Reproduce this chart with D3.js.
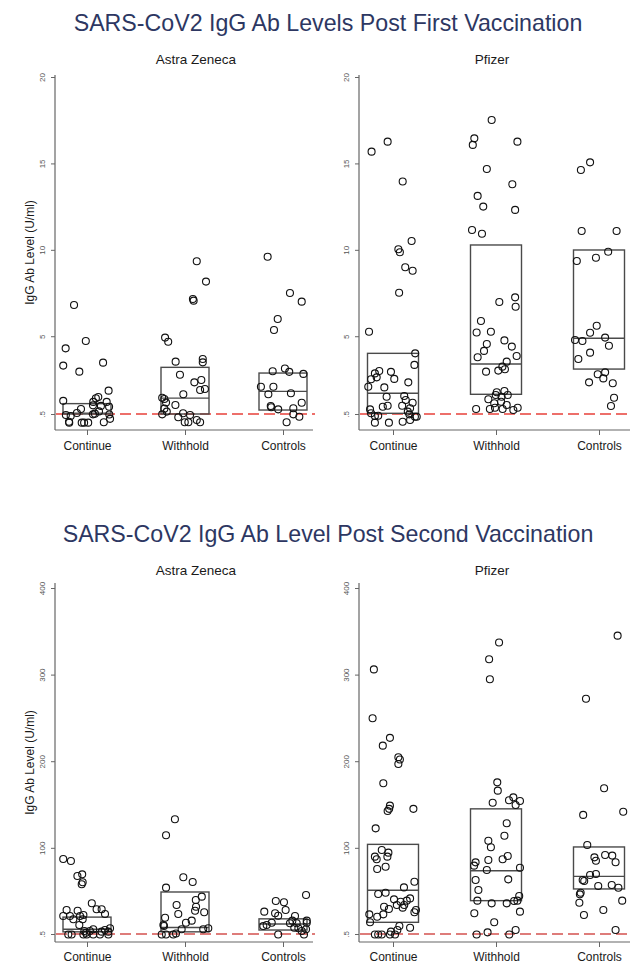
<!DOCTYPE html>
<html>
<head>
<meta charset="utf-8">
<script src="https://cdn.jsdelivr.net/npm/d3@7/dist/d3.min.js"></script>
<style>
  html, body { margin: 0; padding: 0; background: #fff; }
  svg { display: block; font-family: "Liberation Sans", Arial, Helvetica, sans-serif; }
</style>
</head>
<body>
<svg id="chart" width="630" height="963"></svg>
<script>
// ---------------- DATA ----------------
const categories = ["Continue", "Withhold", "Controls"];
const vaccines = ["Astra Zeneca", "Pfizer"];
const titles = ["SARS-CoV2 IgG Ab Levels Post First Vaccination",
                "SARS-CoV2 IgG Ab Level Post Second Vaccination"];
const yAxisTitle = "IgG Ab Level (U/ml)";
const firstTicks = [0.5, 5, 10, 15, 20];
const firstTickLabels = [".5", "5", "10", "15", "20"];
const secondTicks = [0.5, 100, 200, 300, 400];
const secondTickLabels = [".5", "100", "200", "300", "400"];
const detectionLimit = 0.5;

// points: [jitter (fraction of box half width), value]
const az1Continue = [[-0.54,6.81],[-0.89,4.30],[-0.05,4.72],[-0.99,3.30],[-0.32,2.95],[0.67,3.47],[0.9,1.85],[-0.99,1.26],[0.47,1.48],[0.37,1.41],[0.26,1.20],[0.82,1.20],[0.58,0.97],[0.92,0.92],[-0.25,0.79],[-0.42,0.56],[-0.68,0.38],[-0.88,0.44],[0.33,0.52],[0.25,0.48],[0.93,0.47],[0.96,0.22],[-0.75,0.05],[-0.74,0.0],[-0.22,0.0],[-0.12,0.0],[0.05,0.0],[0.70,0.02],[0.25,1.0],[0.5,0.65]];
const az1Withhold = [[0.49,9.34],[0.875,8.16],[0.33,7.15],[0.36,7.06],[-0.83,4.92],[-0.70,4.68],[-0.39,3.53],[0.74,3.68],[0.74,3.49],[-0.21,2.77],[0.39,2.33],[0.68,2.47],[0.63,1.89],[0.83,1.95],[-0.07,1.64],[-0.95,1.44],[-0.86,1.37],[-0.79,1.16],[-0.40,1.02],[-0.86,0.81],[-0.76,0.64],[-0.95,0.48],[-0.08,0.54],[-0.28,0.31],[0.21,0.44],[-0.01,0.02],[0.14,0.02],[0.49,0.15],[0.63,0.02]];
const az1Controls = [[-0.64,9.60],[0.29,7.50],[0.78,7.0],[-0.22,6.0],[-0.375,5.36],[-0.43,2.97],[0.08,3.13],[0.26,2.94],[0.85,2.82],[-0.92,2.08],[-0.40,2.08],[-0.61,1.64],[0.33,1.70],[-0.51,0.96],[-0.49,0.89],[-0.20,0.77],[0.78,1.15],[0.43,0.83],[0.43,0.48],[0.68,0.34],[0.15,0.02]];

const pf1Continue = [[-0.84,15.68],[-0.21,16.26],[0.38,13.95],[0.73,10.51],[0.21,10.03],[0.27,9.86],[0.48,8.99],[0.77,8.79],[0.24,7.52],[-0.94,5.26],[0.87,4.01],[0.84,3.34],[-0.54,2.99],[-0.71,2.85],[-0.86,2.51],[-0.08,2.94],[-0.64,2.62],[0.05,2.53],[-0.97,2.08],[-0.34,2.04],[0.60,2.33],[-0.25,1.50],[0.44,1.54],[0.50,1.31],[0.77,1.15],[-0.21,0.98],[-0.40,0.92],[0.36,0.98],[0.67,0.83],[-0.90,0.77],[-0.86,0.54],[-0.71,0.38],[-0.58,0.40],[0.58,0.64],[0.64,0.48],[0.86,0.34],[-0.71,0.0],[-0.16,0.0],[0.38,0.05],[0.67,0.15],[0.93,0.34]];
const pf1Withhold = [[-0.17,17.51],[-0.85,16.45],[-0.91,16.07],[0.84,16.26],[-0.36,14.68],[0.64,13.79],[-0.72,13.12],[-0.50,12.5],[0.75,12.31],[-0.94,11.15],[-0.55,10.93],[0.75,7.25],[0.13,6.98],[0.77,6.71],[-0.59,5.88],[-0.20,5.26],[-0.76,5.22],[0.33,4.76],[-0.36,4.55],[0.62,4.40],[-0.47,4.15],[0.81,3.86],[-0.72,3.78],[0.42,3.53],[0.25,3.24],[0.35,3.09],[-0.39,2.95],[0.09,3.01],[0.03,1.76],[0.33,1.83],[0.46,1.60],[-0.01,1.60],[-0.30,1.35],[0.22,1.50],[0.20,1.21],[-0.07,1.12],[0.42,1.02],[-0.78,0.79],[-0.24,0.79],[-0.04,0.86],[0.26,0.79],[0.68,0.73],[0.85,0.86]];
const pf1Controls = [[-0.71,14.62],[-0.35,15.06],[-0.68,11.09],[0.69,11.09],[0.36,9.89],[-0.12,9.54],[-0.87,9.35],[-0.09,5.61],[-0.35,5.20],[0.24,4.92],[-0.94,4.78],[-0.65,4.72],[0.39,4.45],[-0.35,4.05],[-0.81,3.68],[-0.05,2.80],[0.24,2.91],[0.17,2.56],[-0.39,2.33],[0.54,2.28],[0.59,1.44],[0.47,0.96]];

const az2Continue = [[-0.99,87.1],[-0.67,84.8],[-0.40,67.5],[-0.20,69.4],[-0.22,57.9],[-0.18,60.2],[0.20,36],[0.40,29],[0.61,29],[0.75,23.6],[-0.85,28.2],[-0.39,27.4],[-0.99,21.3],[-0.71,21.3],[-0.57,17.5],[-0.29,21.3],[-0.15,22.4],[-0.18,17.5],[-0.32,10.9],[0.75,5.1],[0.96,7.1],[0.26,6.0],[-0.11,4],[0.12,4],[0.89,3.2],[0.61,3.2],[-0.04,2],[-0.78,0],[-0.64,0],[-0.15,0],[-0.01,0],[0.26,0],[0.54,0],[0.89,0]];
const az2Withhold = [[-0.42,133],[-0.79,114.5],[-0.07,66],[0.32,60.5],[-0.79,54],[0.70,43.6],[0.45,39.8],[-0.35,34],[0.46,32],[0.42,27.4],[0.80,25.6],[-0.28,23.6],[-0.83,19.3],[0.04,13.5],[0.28,15.9],[-0.90,10.9],[-0.875,9.7],[-0.14,6],[0.76,6],[0.97,7.1],[-0.97,0],[-0.79,0],[-0.49,0],[-0.375,1]];
const az2Controls = [[0.96,45.5],[-0.30,38.6],[0.04,37.1],[-0.78,26.3],[-0.33,24.4],[-0.20,21.6],[0.11,28.2],[0.5,21.3],[0.39,15.9],[-0.47,13.5],[-0.82,9.7],[-0.68,10.9],[0.29,12.9],[0.57,12.9],[0.99,15.9],[0.99,13.5],[0.47,7.8],[0.64,7.1],[0.78,4],[0.96,6],[-0.20,0],[0.875,0]];

const pf2Continue = [[-0.75,306],[-0.80,249.6],[-0.40,218],[-0.12,227],[0.21,204.5],[0.27,202],[0.21,196.8],[-0.38,174.5],[-0.12,148.7],[-0.15,145],[-0.21,142.5],[0.80,145],[-0.68,122.5],[-0.44,97.5],[-0.18,94.4],[-0.71,89.8],[-0.64,86.8],[-0.22,89.8],[-0.62,75.5],[-0.29,78.2],[0.43,54.3],[0.84,60.8],[-0.58,46.7],[-0.29,48.2],[0.04,40.5],[0.30,37.8],[0.44,34],[0.15,34],[0.54,39],[0.67,41.6],[0.38,30.9],[-0.35,32],[-0.16,29.4],[0.90,28.2],[0.84,25.6],[-0.62,20.5],[-0.38,23.2],[-0.93,23.2],[-0.90,14],[0.25,9.7],[0.67,7.8],[-0.08,3.2],[0.17,5.1],[-0.71,0],[-0.58,0],[-0.44,0],[-0.12,0],[0.08,0]];
const pf2Withhold = [[0.12,337],[-0.27,317.7],[-0.24,294.6],[0.05,175.6],[0.07,166],[0.51,155],[0.68,158.3],[0.77,149.5],[0.94,154],[-0.13,152],[0.42,128.3],[0.33,114],[-0.30,108.2],[-0.20,100.6],[0.46,90.6],[0.26,86.8],[-0.30,86],[-0.80,83.2],[-0.86,79.4],[-0.36,74.4],[0.94,77],[-0.80,62.8],[0.48,63.6],[-0.69,51.3],[-0.73,39],[-0.17,35.9],[0.42,35.9],[0.71,38.6],[0.84,39],[0.91,44.4],[0.94,26.3],[-0.85,24.4],[-0.07,14],[0.77,5.1],[-0.33,2.4],[-0.76,0],[0.52,0]];
const pf2Controls = [[0.73,345],[-0.51,272.2],[0.20,168.7],[-0.62,138],[0.95,141.7],[-0.46,103.3],[-0.18,89],[-0.12,85],[0.24,91.7],[0.52,91],[0.65,83.3],[-0.35,68.6],[-0.12,69.8],[-0.64,62.8],[-0.58,61.7],[-0.03,55.9],[0.50,57],[0.76,53.9],[-0.72,48.2],[-0.75,46.3],[-0.77,36.6],[0.91,39],[0.17,28.2],[-0.59,22.4],[0.65,5.1]];

// box statistics per category (Continue, Withhold, Controls)
const az1Q1 = [0.5, 0.5, 0.73],  az1Median = [0.55, 1.42, 1.81], az1Q3 = [1.10, 3.20, 2.87];
const pf1Q1 = [0.54, 1.64, 3.10], pf1Median = [1.70, 3.39, 4.88], pf1Q3 = [4.01, 10.28, 9.99];
const az2Q1 = [3, 3, 5.1],        az2Median = [6, 8, 12.1],       az2Q3 = [20, 49, 18];
const pf2Q1 = [14, 39, 52.5],     pf2Median = [51, 73.6, 67],     pf2Q3 = [104, 145, 101];

// ---------------- LAYOUT ----------------
const svg = d3.select("#chart");
const FONT = '"Liberation Sans", Arial, Helvetica, sans-serif';

const rows = [
  { title: titles[0], titleY: 31, subY: 64, axisTop: 75, axisBottom: 430,
    domain: [0.5, 20], range: [414, 77], ticks: firstTicks, tickLabels: firstTickLabels,
    redColor: "#e8403a",
    groups: [[az1Continue, az1Withhold, az1Controls], [pf1Continue, pf1Withhold, pf1Controls]],
    boxes: [[az1Q1, az1Median, az1Q3], [pf1Q1, pf1Median, pf1Q3]] },
  { title: titles[1], titleY: 542, subY: 575, axisTop: 583, axisBottom: 942,
    domain: [0.5, 400], range: [934, 588], ticks: secondTicks, tickLabels: secondTickLabels,
    redColor: "#d4514f",
    groups: [[az2Continue, az2Withhold, az2Controls], [pf2Continue, pf2Withhold, pf2Controls]],
    boxes: [[az2Q1, az2Median, az2Q3], [pf2Q1, pf2Median, pf2Q3]] }
];
const cols = [
  { x0: 55, x1: 313, catRange: [87, 283], halfW: 24, subX: 196 },
  { x0: 359, x1: 631, catRange: [393, 599], halfW: 25.5, subX: 492 }
];

rows.forEach((row, ri) => {
  svg.append("text")
    .attr("x", 328).attr("y", row.titleY)
    .attr("text-anchor", "middle")
    .attr("font-family", FONT).attr("font-size", 23.2)
    .attr("fill", "#2d3762")
    .text(row.title);

  const y = d3.scaleLinear().domain(row.domain).range(row.range);

  cols.forEach((col, ci) => {
    const g = svg.append("g");
    const x = d3.scalePoint().domain(categories).range(col.catRange);

    // subtitle
    g.append("text")
      .attr("x", col.subX).attr("y", row.subY)
      .attr("text-anchor", "middle")
      .attr("font-family", FONT).attr("font-size", 13.5)
      .attr("fill", "#1a1a1a")
      .text(vaccines[ci]);

    // y axis
    const yAxis = d3.axisLeft(y).tickValues(row.ticks)
      .tickFormat((d, i) => row.tickLabels[i]).tickSize(4).tickSizeOuter(0);
    const ya = g.append("g").attr("transform", `translate(${col.x0},0)`).call(yAxis);
    ya.select(".domain").remove();
    ya.selectAll(".tick line").attr("stroke", "#666").attr("stroke-width", 1);
    ya.selectAll(".tick text")
      .attr("x", null).attr("dy", null)
      .attr("transform", "translate(-10,0) rotate(-90)")
      .attr("text-anchor", "middle")
      .attr("font-family", FONT).attr("font-size", 8)
      .attr("fill", "#555");
    g.append("line")
      .attr("x1", col.x0).attr("x2", col.x0)
      .attr("y1", row.axisTop).attr("y2", row.axisBottom)
      .attr("stroke", "#666").attr("stroke-width", 1.2);

    // x axis
    const xAxis = d3.axisBottom(x).tickSize(5).tickSizeOuter(0);
    const xa = g.append("g").attr("transform", `translate(0,${row.axisBottom})`).call(xAxis);
    xa.select(".domain").remove();
    xa.selectAll(".tick line").attr("stroke", "#666").attr("stroke-width", 1);
    xa.selectAll(".tick text")
      .attr("y", ri === 0 ? 11 : 10)
      .attr("font-family", FONT).attr("font-size", 12)
      .attr("fill", "#1a1a1a");
    g.append("line")
      .attr("x1", col.x0).attr("x2", col.x1)
      .attr("y1", row.axisBottom).attr("y2", row.axisBottom)
      .attr("stroke", "#666").attr("stroke-width", 1.2);

    // y axis title (left column only)
    if (ci === 0) {
      const cy = (row.axisTop + row.axisBottom) / 2;
      g.append("text")
        .attr("transform", `translate(34,${cy}) rotate(-90)`)
        .attr("text-anchor", "middle")
        .attr("font-family", FONT).attr("font-size", 12)
        .attr("fill", "#1a1a1a")
        .text(yAxisTitle);
    }

    // detection-limit line
    g.append("line")
      .attr("x1", col.x0 + 1).attr("x2", col.x1 + 2)
      .attr("y1", y(detectionLimit)).attr("y2", y(detectionLimit))
      .attr("stroke", row.redColor).attr("stroke-width", 1.6)
      .attr("stroke-dasharray", "11,5");

    // boxes
    const [q1, med, q3] = row.boxes[ci];
    categories.forEach((c, k) => {
      const cx = x(c);
      g.append("rect")
        .attr("x", cx - col.halfW).attr("width", col.halfW * 2)
        .attr("y", y(q3[k])).attr("height", y(q1[k]) - y(q3[k]))
        .attr("fill", "none").attr("stroke", "#4a4a4a").attr("stroke-width", 1.4);
      g.append("line")
        .attr("x1", cx - col.halfW).attr("x2", cx + col.halfW)
        .attr("y1", y(med[k])).attr("y2", y(med[k]))
        .attr("stroke", "#4a4a4a").attr("stroke-width", 1.4);
    });

    // points
    categories.forEach((c, k) => {
      const pts = row.groups[ci][k];
      g.selectAll(null).data(pts).enter().append("circle")
        .attr("cx", d => x(c) + d[0] * col.halfW)
        .attr("cy", d => y(d[1]))
        .attr("r", 3.5)
        .attr("fill", "none")
        .attr("stroke", "#111")
        .attr("stroke-width", 1.1);
    });
  });
});
</script>
</body>
</html>
